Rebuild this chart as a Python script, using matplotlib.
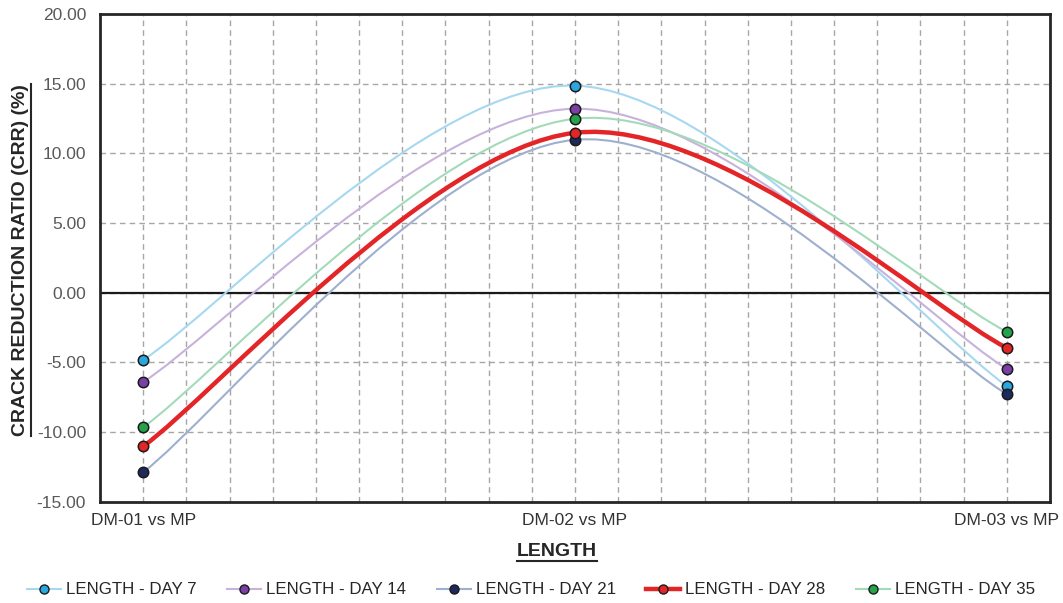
import matplotlib
matplotlib.use("Agg")
import matplotlib.pyplot as plt
from matplotlib.path import Path
from matplotlib.patches import PathPatch
from matplotlib.lines import Line2D
import numpy as np

plt.rcParams["font.family"] = ["Liberation Sans", "DejaVu Sans"]

# Data
categories = ["DM-01 vs MP", "DM-02 vs MP", "DM-03 vs MP"]
series_names = ["LENGTH - DAY 7", "LENGTH - DAY 14", "LENGTH - DAY 21",
                "LENGTH - DAY 28", "LENGTH - DAY 35"]
day7 = [-4.83, 14.86, -6.71]
day14 = [-6.42, 13.20, -5.48]
day21 = [-12.90, 10.97, -7.29]
day28 = [-11.04, 11.47, -3.97]
day35 = [-9.67, 12.48, -2.81]

line_colors = ["#a6d8f0", "#c8b2dc", "#9eb0ce", "#e42528", "#a3dbba"]
marker_colors = ["#29a7df", "#7b3fa6", "#1d2a5c", "#e42528", "#25a34a"]
line_widths = [1.5, 1.5, 1.5, 3.2, 1.5]


def smooth_path(xs, ys):
    # Excel-like smoothed line: Catmull-Rom segments as cubic Beziers
    pts = np.column_stack([xs, ys]).astype(float)
    n = len(pts)
    verts = [pts[0]]
    codes = [Path.MOVETO]
    for i in range(n - 1):
        p_prev = pts[i - 1] if i > 0 else pts[i]
        p_next = pts[i + 2] if i + 2 < n else pts[i + 1]
        c1 = pts[i] + (pts[i + 1] - p_prev) / 6
        c2 = pts[i + 1] - (p_next - pts[i]) / 6
        verts += [c1, c2, pts[i + 1]]
        codes += [Path.CURVE4] * 3
    return Path(verts, codes)


fig = plt.figure(figsize=(10.63, 6.03), dpi=100)
ax = fig.add_axes([100 / 1063, 1 - 501.5 / 603, 950 / 1063, 487.5 / 603])

x = np.arange(1, len(categories) + 1)
all_series = [day7, day14, day21, day28, day35]

for vals, lc, mc, lw in zip(all_series, line_colors, marker_colors, line_widths):
    patch = PathPatch(smooth_path(x, vals), fill=False, edgecolor=lc, lw=lw,
                      zorder=3, capstyle="round")
    ax.add_patch(patch)
for vals, mc in zip(all_series, marker_colors):
    ax.plot(x, vals, ls="none", marker="o", ms=7.5, mfc=mc, mec="#1a1a1a",
            mew=1.1, zorder=4)

ax.set_xlim(0.9, 3.1)
ax.set_ylim(-15, 20)
ax.set_yticks(np.arange(-15, 20.1, 5))
ax.set_yticklabels([f"{v:.2f}" for v in np.arange(-15, 20.1, 5)])
ax.set_xticks(x)
ax.set_xticklabels(categories)
ax.set_xticks(np.arange(1.0, 3.05, 0.1), minor=True)
ax.tick_params(axis="both", length=0, labelsize=12.5)
ax.tick_params(axis="x", pad=8, labelcolor="#333333")
ax.tick_params(axis="y", pad=10, labelcolor="#595959")
ax.tick_params(which="minor", length=0)

ax.grid(True, which="both", axis="x", ls=(0, (4, 3)), color="#a6a6a6", lw=1)
ax.grid(True, which="major", axis="y", ls=(0, (4, 3)), color="#a6a6a6", lw=1)
ax.set_axisbelow(True)
ax.axhline(0, color="#1a1a1a", lw=1.6, zorder=2)
for s in ax.spines.values():
    s.set_color("#262626")
    s.set_linewidth(2)

# Axis titles (underlined)
ylab = fig.text(21 / 1063, 1 - 260 / 603, "CRACK REDUCTION RATIO (CRR) (%)",
                rotation=90, ha="center", va="center", fontsize=14,
                fontweight="bold", color="#262626")
xlab = fig.text(557 / 1063, 1 - 551 / 603, "LENGTH", ha="center", va="center",
                fontsize=14, fontweight="bold", color="#262626")

handles = [Line2D([], [], color=lc, lw=lw, marker="o", ms=6.5, mfc=mc,
                  mec="#1a1a1a", mew=1.0)
           for lc, mc, lw in zip(line_colors, marker_colors, line_widths)]
fig.legend(handles, series_names, loc="center", bbox_to_anchor=(531 / 1063, 1 - 590 / 603),
           ncol=5, frameon=False, fontsize=12.2, handlelength=2.0, handletextpad=0.3,
           columnspacing=1.8, labelcolor="#262626")

fig.canvas.draw()
r = fig.canvas.get_renderer()
inv = fig.transFigure.inverted()
bb = xlab.get_window_extent(r)
(x0, y0), (x1, y1) = inv.transform([(bb.x0, bb.y0), (bb.x1, bb.y1)])
fig.add_artist(Line2D([x0, x1], [y0 - 0.002, y0 - 0.002], color="#262626", lw=1.5))
bb = ylab.get_window_extent(r)
(x0, y0), (x1, y1) = inv.transform([(bb.x0, bb.y0), (bb.x1, bb.y1)])
fig.add_artist(Line2D([x1 + 0.001, x1 + 0.001], [y0, y1], color="#262626", lw=1.5))

fig.savefig("out.png", dpi=100)
